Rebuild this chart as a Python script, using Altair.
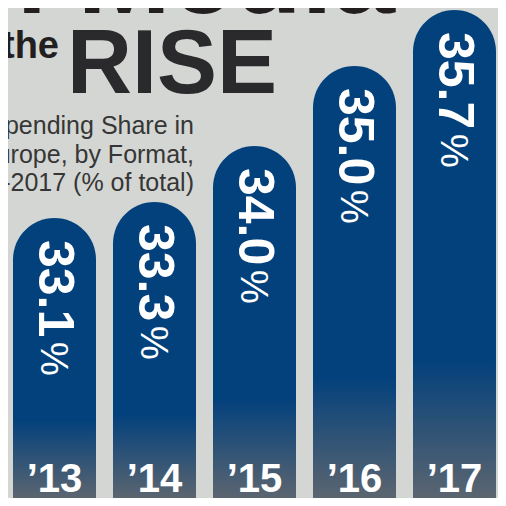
import altair as alt
import pandas as pd

# ---- data ----
years = ["’13", "’14", "’15", "’16", "’17"]
shares = [33.1, 33.3, 34.0, 35.0, 35.7]
share_text = ["33.1", "33.3", "34.0", "35.0", "35.7"]
axis_floor = 29.6      # value at the bottom edge of the plot
axis_ceiling = 35.725  # value at the top edge of the plot

title_top = "on Media"
title_the = "the"
title_rise = "RISE"
subtitle_lines = ["pending Share in", "urope, by Format,", "-2017 (% of total)"]

BG = "#d4d6d3"
BLUE = "#03417c"
FADE = "#5b6570"
INK = "#231f20"
FONT = "Liberation Sans"

W, H = 490, 490

df = pd.DataFrame({
    "year": years,
    "share": shares,
    "label": share_text,
    "base": [axis_floor] * len(years),
})

xenc = alt.X("year:N", sort=years, axis=None,
             scale=alt.Scale(paddingInner=0.17, paddingOuter=0.035, align=0.714))
yscale = alt.Scale(domain=[axis_floor, axis_ceiling], zero=False, nice=False)

grad = alt.LinearGradient(
    gradient="linear", x1=0, x2=0, y1=0, y2=1,
    stops=[alt.GradientStop(color=BLUE, offset=0),
           alt.GradientStop(color=BLUE, offset=0.72),
           alt.GradientStop(color=FADE, offset=1)],
)

base = alt.Chart(df)

bars = base.mark_bar(cornerRadiusTopLeft=41.5, cornerRadiusTopRight=41.5, color=grad).encode(
    x=xenc,
    y=alt.Y("share:Q", scale=yscale, axis=None),
    y2="base:Q",
)

values = base.mark_text(angle=90, align="left", baseline="middle", dx=22,
                        fontSize=50, fontWeight="bold", color="white", font=FONT).encode(
    x=xenc, y=alt.Y("share:Q", scale=yscale, axis=None), text="label:N")

pct = base.mark_text(angle=90, align="left", baseline="middle", dx=124, dy=2,
                     fontSize=38, color="white", font=FONT).encode(
    x=xenc, y=alt.Y("share:Q", scale=yscale, axis=None), text=alt.value("%"))

yr = base.mark_text(baseline="alphabetic", dy=-6, fontSize=40, fontWeight="bold",
                    color="white", font=FONT).encode(
    x=xenc, y=alt.Y("base:Q", scale=yscale, axis=None), text="year:N")

def label(txt, x, y, size, weight="normal", align="left", color=INK):
    return alt.Chart(pd.DataFrame({"t": [txt]})).mark_text(
        align=align, baseline="alphabetic", fontSize=size, fontWeight=weight,
        color=color, font=FONT, clip=True,
    ).encode(x=alt.value(x), y=alt.value(y), text="t:N")

texts = [
    label(title_top, 387, 5, 112, "bold", "right"),
    label(title_the, 51, 50, 38, "bold", "right"),
    label(title_rise, 59, 85, 90, "bold", "left", "#2a2a2c"),
]
for i, line in enumerate(subtitle_lines):
    texts.append(label(line, 186, 126 + i * 28.5, 25, "normal", "right", "#363636"))

chart = alt.layer(bars, values, pct, yr, *texts).properties(
    width=W, height=H, background=BG, padding=0,
    autosize=alt.AutoSizeParams(type="none"),
).configure_view(stroke=None)

chart.save("out.html", embed_options={"renderer": "svg", "actions": False})
